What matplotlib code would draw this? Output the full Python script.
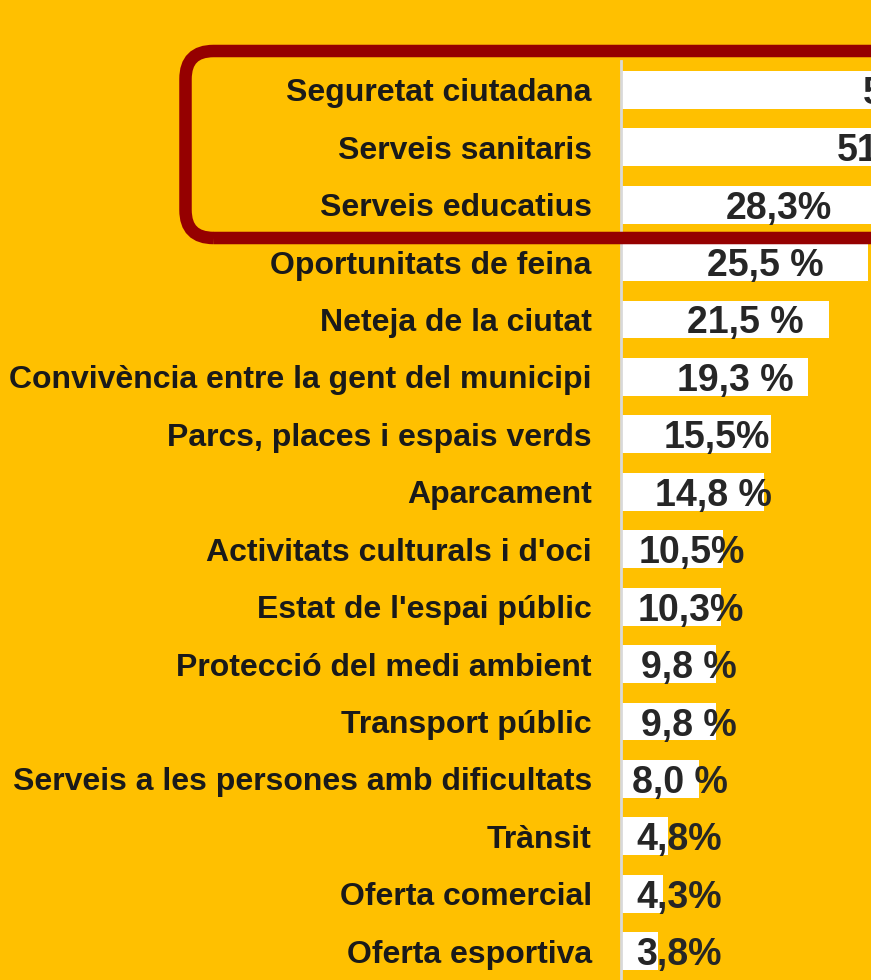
import matplotlib
matplotlib.use("Agg")
import matplotlib.pyplot as plt
from matplotlib.patches import FancyBboxPatch
from matplotlib.transforms import IdentityTransform

categories = ["Seguretat ciutadana", "Serveis sanitaris", "Serveis educatius",
              "Oportunitats de feina", "Neteja de la ciutat",
              "Convivència entre la gent del municipi",
              "Parcs, places i espais verds", "Aparcament",
              "Activitats culturals i d'oci", "Estat de l'espai públic",
              "Protecció del medi ambient", "Transport públic",
              "Serveis a les persones amb dificultats", "Trànsit",
              "Oferta comercial", "Oferta esportiva"]
values = [56.6, 51.4, 28.3, 25.5, 21.5, 19.3, 15.5, 14.8, 10.5, 10.3, 9.8, 9.8, 8.0, 4.8, 4.3, 3.8]
gaps = ["", "", "", " ", " ", " ", "", " ", "", "", " ", " ", " ", "", "", ""]

bg = "#FFC000"
red = "#950000"

plt.rcParams['font.family'] = ['Liberation Sans', 'DejaVu Sans']
fig = plt.figure(figsize=(8.71, 9.8), dpi=100, facecolor=bg)
ax = fig.add_axes([621/871, 0, 250/871, 919/980])
ax.set_facecolor(bg)

y = list(range(len(categories)))
ax.barh(y, values, height=0.66, color="white", zorder=2)
ax.set_xlim(0, 250/9.69)
ax.set_ylim(len(categories)-0.5, -0.5)

for s in ["top", "right", "bottom"]:
    ax.spines[s].set_visible(False)
ax.spines["left"].set_color("#d9d9d9")
ax.spines["left"].set_linewidth(2)
ax.set_xticks([])
ax.set_yticks(y)
ax.set_yticklabels(categories, fontsize=23, fontweight="bold", color="#1a1a1a")
ax.tick_params(axis="y", length=0, pad=21)

for i, v in enumerate(values):
    txt = f"{v:.1f}".replace(".", ",") + gaps[i] + "%"
    ax.text(max(v/2 + 2.1, 6.0), i, txt, ha="center", va="center_baseline",
            fontsize=27, fontweight="bold", color="#262626", zorder=3)

box = FancyBboxPatch((185.5, 980-238), 900, 187,
                     boxstyle="round,pad=0,rounding_size=28",
                     transform=IdentityTransform(), fill=False,
                     edgecolor=red, linewidth=9, zorder=10)
fig.patches.append(box)

fig.savefig("out.png", dpi=100, facecolor=bg)
